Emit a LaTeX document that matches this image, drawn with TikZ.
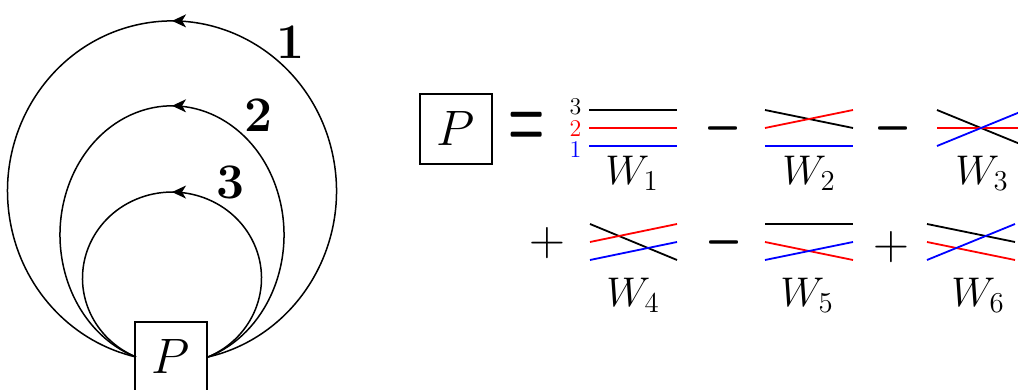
\documentclass[tikz,border=0pt]{standalone}
\usepackage{amsmath,bm,graphicx}
\usetikzlibrary{arrows.meta,decorations.markings}
\definecolor{wred}{RGB}{255,0,0}
\definecolor{wblue}{RGB}{0,0,255}
\begin{document}
\begin{tikzpicture}[x=0.5pt,y=0.5pt,
  loopline/.style={line width=0.75pt, postaction={decorate},
    decoration={markings, mark=at position 0.5 with {\arrow{Stealth[length=7pt,width=6.5pt,inset=2pt]}}}},
  pbox/.style={draw, line width=1pt, minimum width=36pt, minimum height=35pt, inner sep=0pt,
    font=\fontsize{26}{30}\selectfont},
  looplab/.style={font=\fontsize{24}{28}\selectfont, inner sep=0pt},
  wl/.style={line width=0.9pt},
  wlab/.style={font=\fontsize{20.5}{24}\selectfont, inner sep=0pt},
  numlab/.style={font=\fontsize{12.5}{14}\selectfont, inner sep=0pt},
  opsign/.style={font=\fontsize{20}{24}\selectfont, inner sep=0pt},
  plussign/.style={font=\fontsize{23}{26}\selectfont, inner sep=0pt}
]
\useasboundingbox (0,0) rectangle (1018,390);

% ---------- left: loops ----------
\node[pbox] (P1) at (171,33) {$P$};

\draw[loopline] (P1.east) arc[start angle=-77.36, end angle=257.36, x radius=164.5, y radius=170.1];
\draw[loopline] (P1.east) arc[start angle=-71.25, end angle=251.25, x radius=112, y radius=129];
\draw[loopline] (P1.east) arc[start angle=-66.28, end angle=246.28, x radius=89.5, y radius=86.1];

\node[looplab] (l1) at (290,348) {$\mathbf{1}$};
\node[looplab] (l2) at (258,275) {$\mathbf{2}$};
\node[looplab] (l3) at (230,208) {$\mathbf{3}$};

% ---------- right: equation ----------
\node[pbox] (P2) at (456,261) {$P$};
\node[opsign] (eq) at (527,260) {\scalebox{1}[2.2]{$\boldsymbol{=}$}};

% W1
\draw[wl] (589,280) -- (677,280);
\draw[wl,wred] (589,262) -- (677,262);
\draw[wl,wblue] (589,244) -- (677,244);
\node[numlab] (n3) at (575.5,283) {$3$};
\node[numlab,text=wred] (n2) at (575.5,261) {$2$};
\node[numlab,text=wblue] (n1) at (575.5,240) {$1$};
\node[wlab] (W1) at (632,217) {$W_1$};

\node[opsign] (m1) at (723,261) {\scalebox{1}[1.35]{$\boldsymbol{-}$}};

% W2
\draw[wl] (765,280) -- (853,262);
\draw[wl,wred] (765,262) -- (853,280);
\draw[wl,wblue] (765,244) -- (853,244);
\node[wlab] (W2) at (809,217) {$W_2$};

\node[opsign] (m2) at (893,261) {\scalebox{1}[1.35]{$\boldsymbol{-}$}};

% W3
\draw[wl] (937,280) -- (1025,244);
\draw[wl,wred] (937,262) -- (1025,262);
\draw[wl,wblue] (937,244) -- (1025,280);
\node[wlab] (W3) at (982,217) {$W_3$};

% row 2
\node[plussign] (p1) at (547,147) {$+$};

% W4
\draw[wl] (590,166) -- (677,130);
\draw[wl,wred] (590,148) -- (677,166);
\draw[wl,wblue] (590,130) -- (677,148);
\node[wlab] (W4) at (633,95) {$W_4$};

\node[opsign] (m3) at (724,147) {\scalebox{1}[1.35]{$\boldsymbol{-}$}};

% W5
\draw[wl] (765,166) -- (853,166);
\draw[wl,wred] (765,148) -- (853,130);
\draw[wl,wblue] (765,130) -- (853,148);
\node[wlab] (W5) at (807,95) {$W_5$};

\node[plussign] (p2) at (891,143) {$+$};

% W6
\draw[wl] (927,166) -- (1015,148);
\draw[wl,wred] (927,148) -- (1015,130);
\draw[wl,wblue] (927,130) -- (1015,166);
\node[wlab] (W6) at (978,95) {$W_6$};
\end{tikzpicture}
\end{document}
